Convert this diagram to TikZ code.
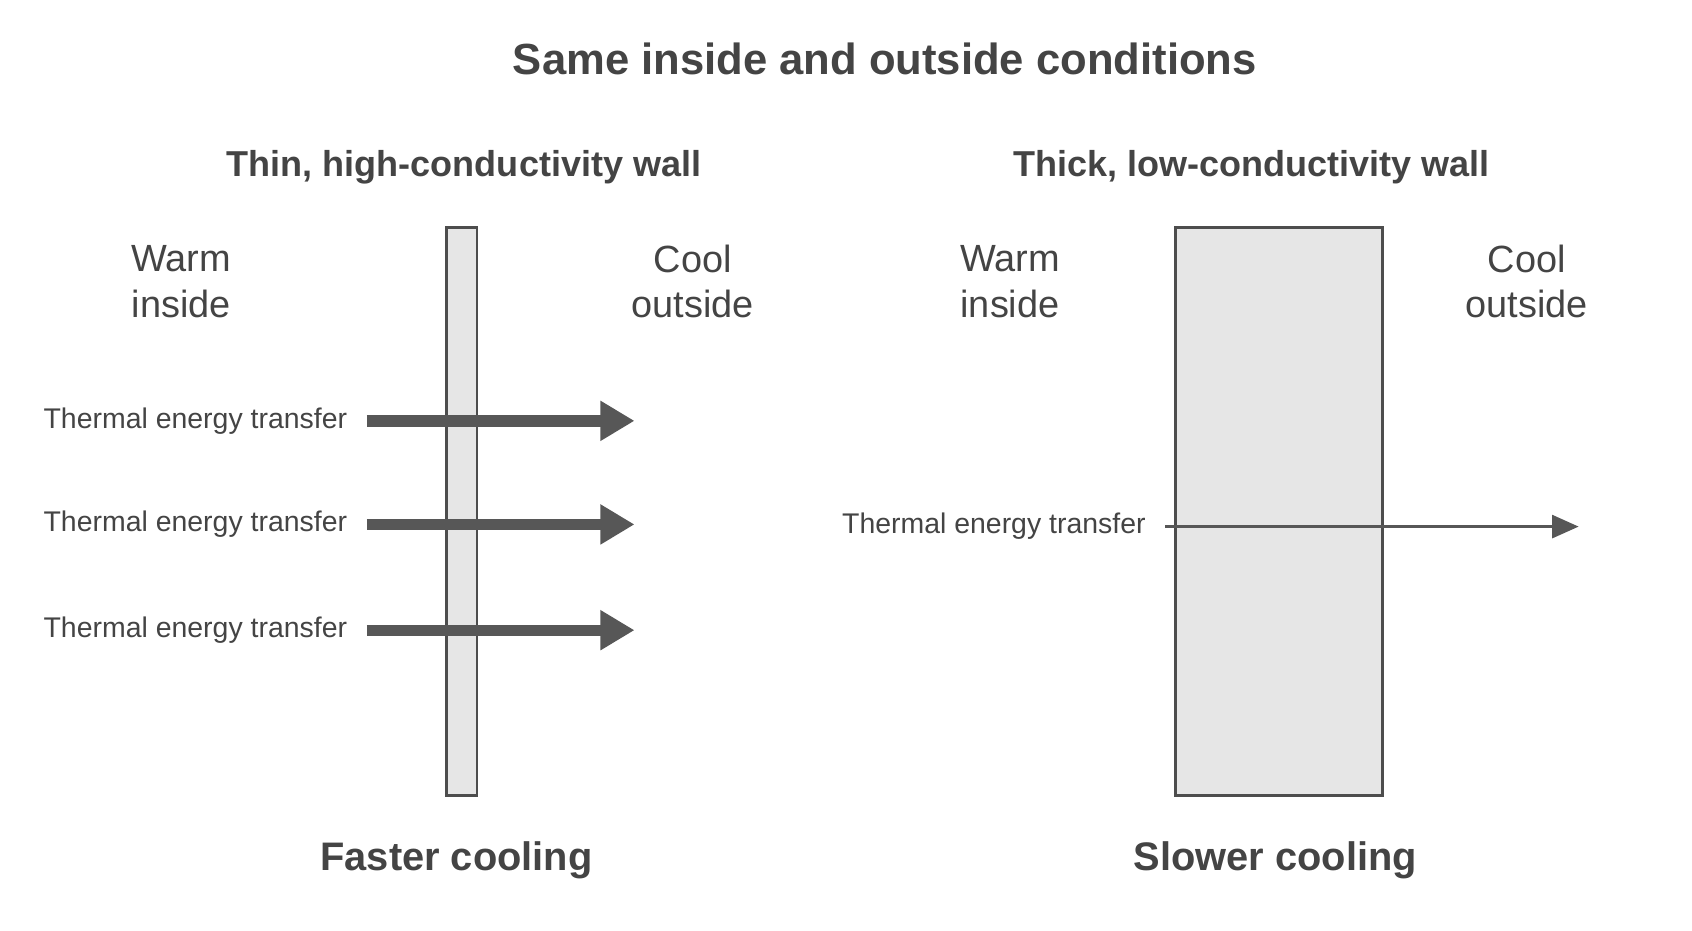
\documentclass[tikz,border=0pt]{standalone}
\usepackage{fontspec}
\setmainfont{Liberation Sans}
\usetikzlibrary{arrows.meta}
\definecolor{ink}{HTML}{444444}
\definecolor{wallgray}{HTML}{E6E6E6}
\tikzset{
	wall/.style={draw=ink!95,fill=wallgray,line width=1.5pt},
	head/.style={font=\fontsize{19}{22}\selectfont\bfseries,text=ink},
	side/.style={font=\fontsize{20}{24}\selectfont,text=ink,align=center},
	lbl/.style={font=\fontsize{15}{18}\selectfont,text=ink,anchor=east,inner sep=0pt},
	fat/.style={draw=ink!90,line width=6pt,-{Triangle[length=18pt,width=20pt]}},
	slim/.style={draw=ink!90,line width=1.8pt,-{Triangle[length=14pt,width=12pt]}}
}
\begin{document}
\begin{tikzpicture}[x=0.02cm,y=-0.02cm]
	\useasboundingbox (0,0) rectangle (1568,862);
	\node[font=\fontsize{23}{28}\selectfont\bfseries,text=ink] (title) at (820,55) {Same inside and outside conditions};
	%
	\node[head] (thin) at (430,155) {Thin, high-conductivity wall};
	\node[head] (thick) at (1160,155) {Thick, low-conductivity wall};
	%
	\draw[wall] (414,211) rectangle (442,737);		%thin wall
	\draw[wall] (1089,211) rectangle (1281,737);	%thick wall
	%
	\node[side] (warmA) at (168,261) {Warm\\inside};
	\node[side] (coolA) at (642,261) {Cool\\outside};
	\node[side] (warmB) at (936,261) {Warm\\inside};
	\node[side] (coolB) at (1415,261) {Cool\\outside};
	%
	\foreach \y/\n in {390/1,486/2,584/3}{
		\node[lbl] (t\n) at (322,\y) {Thermal energy transfer};
		\coordinate (e\n) at (588,\y);
		\draw[fat] ([xshift=18*0.02cm]t\n.east) -- (e\n);
	}
	\node[lbl] (t4) at (1062,488) {Thermal energy transfer};
	\coordinate (e4) at (1463,488);
	\draw[slim] ([xshift=18*0.02cm]t4.east) -- (e4);
	%
	\node[head,font=\fontsize{21}{25}\selectfont\bfseries] (fast) at (423,797) {Faster cooling};
	\node[head,font=\fontsize{21}{25}\selectfont\bfseries] (slow) at (1182,797) {Slower cooling};
\end{tikzpicture}
\end{document}
